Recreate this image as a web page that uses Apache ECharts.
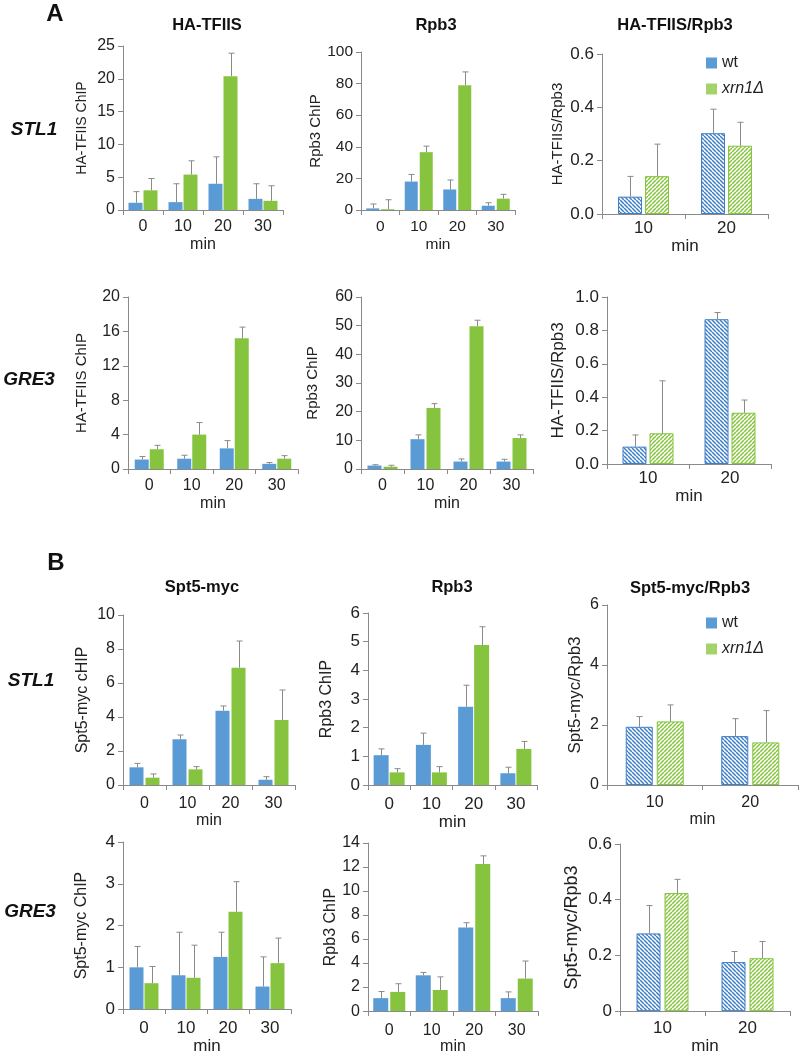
<!DOCTYPE html>
<html>
<head>
<meta charset="utf-8">
<script src="https://cdn.jsdelivr.net/npm/echarts@6/dist/echarts.min.js"></script>
<style>
html, body { margin: 0; padding: 0; background: #fff; }
#main { width: 800px; height: 1056px; }
</style>
</head>
<body>
<div id="main"></div>
<script>
var minAll = ['0', '10', '20', '30'];
var minMid = ['10', '20'];

// A - STL1
var stl1TfiisWt = [1.1, 1.2, 4.0, 1.7];
var stl1TfiisWtErr = [1.7, 2.8, 4.1, 2.3];
var stl1TfiisXrn = [3.0, 5.4, 20.4, 1.4];
var stl1TfiisXrnErr = [1.8, 2.1, 3.5, 2.3];

var stl1RpbWt = [1.0, 18, 13, 2.7];
var stl1RpbWtErr = [2.8, 4.5, 6, 1.9];
var stl1RpbXrn = [0.5, 36.6, 79, 7.2];
var stl1RpbXrnErr = [6, 3.8, 8.4, 2.7];

var stl1RatioWt = [0.065, 0.303];
var stl1RatioWtErr = [0.076, 0.09];
var stl1RatioXrn = [0.142, 0.256];
var stl1RatioXrnErr = [0.12, 0.088];

// A - GRE3
var gre3TfiisWt = [1.1, 1.2, 2.4, 0.6];
var gre3TfiisWtErr = [0.35, 0.4, 0.9, 0.15];
var gre3TfiisXrn = [2.3, 4.0, 15.2, 1.2];
var gre3TfiisXrnErr = [0.45, 1.4, 1.3, 0.35];

var gre3RpbWt = [1.2, 10.4, 2.6, 2.6];
var gre3RpbWtErr = [0.3, 1.5, 0.9, 0.8];
var gre3RpbXrn = [0.8, 21.3, 49.8, 10.8];
var gre3RpbXrnErr = [0.5, 1.5, 2.1, 1.1];

var gre3RatioWt = [0.104, 0.867];
var gre3RatioWtErr = [0.07, 0.04];
var gre3RatioXrn = [0.184, 0.307];
var gre3RatioXrnErr = [0.314, 0.076];

// B - STL1
var stl1SptWt = [1.04, 2.69, 4.37, 0.31];
var stl1SptWtErr = [0.23, 0.25, 0.28, 0.18];
var stl1SptXrn = [0.43, 0.92, 6.9, 3.82];
var stl1SptXrnErr = [0.22, 0.16, 1.57, 1.77];

var stl1Rpb2Wt = [1.04, 1.4, 2.73, 0.41];
var stl1Rpb2WtErr = [0.22, 0.41, 0.75, 0.21];
var stl1Rpb2Xrn = [0.44, 0.44, 4.88, 1.26];
var stl1Rpb2XrnErr = [0.13, 0.2, 0.64, 0.26];

var stl1SptRatioWt = [1.94, 1.63];
var stl1SptRatioWtErr = [0.34, 0.58];
var stl1SptRatioXrn = [2.12, 1.42];
var stl1SptRatioXrnErr = [0.55, 1.06];

// B - GRE3
var gre3SptWt = [1.0, 0.81, 1.25, 0.54];
var gre3SptWtErr = [0.5, 1.03, 0.59, 0.71];
var gre3SptXrn = [0.62, 0.75, 2.33, 1.1];
var gre3SptXrnErr = [0.4, 0.78, 0.72, 0.6];

var gre3Rpb2Wt = [1.08, 2.98, 6.96, 1.08];
var gre3Rpb2WtErr = [0.55, 0.24, 0.4, 0.52];
var gre3Rpb2Xrn = [1.6, 1.76, 12.25, 2.71];
var gre3Rpb2XrnErr = [0.68, 1.09, 0.68, 1.46];

var gre3SptRatioWt = [0.279, 0.176];
var gre3SptRatioWtErr = [0.1, 0.038];
var gre3SptRatioXrn = [0.424, 0.19];
var gre3SptRatioXrnErr = [0.049, 0.06];

var blue = '#5b9bd5';
var green = '#86c440';
var grey = '#8a8a8a';
var font = 'Liberation Sans, Arial, sans-serif';

// panel layout (px), fs = tick label size, nfs = axis name size, lm = x label margin, ng = "min" gap
var panels = [
	{ l: 123, t: 46, w: 160, h: 164, cats: minAll, max: 25, step: 5, name: 'HA-TFIIS ChIP', gap: 34, bw: 14, bg: 1, fs: 16, nfs: 14, lm: 9, ng: 27, d: [stl1TfiisWt, stl1TfiisWtErr, stl1TfiisXrn, stl1TfiisXrnErr] },
	{ l: 361, t: 52, w: 154, h: 158, cats: minAll, max: 100, step: 20, name: 'Rpb3 ChIP', gap: 36.5, bw: 13, bg: 2, fs: 15.5, nfs: 15, lm: 9, ng: 27, d: [stl1RpbWt, stl1RpbWtErr, stl1RpbXrn, stl1RpbXrnErr] },
	{ l: 602, t: 54, w: 166, h: 160, cats: minMid, max: 0.6, step: 0.2, name: 'HA-TFIIS/Rpb3', gap: 36.5, bw: 24, bg: 3, fs: 17, nfs: 15, lm: 6, ng: 23, fix: 1, hatch: true, d: [stl1RatioWt, stl1RatioWtErr, stl1RatioXrn, stl1RatioXrnErr] },
	{ l: 128, t: 297, w: 170, h: 172, cats: minAll, max: 20, step: 4, name: 'HA-TFIIS ChIP', gap: 38.5, bw: 14, bg: 1, fs: 16, nfs: 15, lm: 9, ng: 27, d: [gre3TfiisWt, gre3TfiisWtErr, gre3TfiisXrn, gre3TfiisXrnErr] },
	{ l: 361, t: 297, w: 172, h: 172, cats: minAll, max: 60, step: 10, name: 'Rpb3 ChIP', gap: 40.5, bw: 14, bg: 2, fs: 16, nfs: 15, lm: 9, ng: 27, d: [gre3RpbWt, gre3RpbWtErr, gre3RpbXrn, gre3RpbXrnErr] },
	{ l: 607, t: 297, w: 164, h: 167, cats: minMid, max: 1.0, step: 0.2, name: 'HA-TFIIS/Rpb3', gap: 40.5, bw: 24, bg: 3, fs: 17, nfs: 17, lm: 6, ng: 24, fix: 1, hatch: true, d: [gre3RatioWt, gre3RatioWtErr, gre3RatioXrn, gre3RatioXrnErr] },
	{ l: 123, t: 615, w: 172, h: 170, cats: minAll, max: 10, step: 2, name: 'Spt5-myc cHIP', gap: 32, bw: 14, bg: 2, fs: 16, nfs: 16, lm: 11, ng: 22, d: [stl1SptWt, stl1SptWtErr, stl1SptXrn, stl1SptXrnErr] },
	{ l: 368, t: 613, w: 169, h: 172, cats: minAll, max: 6, step: 1, name: 'Rpb3 ChIP', gap: 33, bw: 15, bg: 1, fs: 17, nfs: 16, lm: 11, ng: 22, d: [stl1Rpb2Wt, stl1Rpb2WtErr, stl1Rpb2Xrn, stl1Rpb2XrnErr] },
	{ l: 607, t: 605, w: 191, h: 180, cats: minMid, max: 6, step: 2, name: 'Spt5-myc/Rpb3', gap: 23.5, bw: 27, bg: 4, fs: 16, nfs: 17, lm: 10, ng: 22, hatch: true, d: [stl1SptRatioWt, stl1SptRatioWtErr, stl1SptRatioXrn, stl1SptRatioXrnErr] },
	{ l: 123, t: 842, w: 168, h: 174, cats: minAll, max: 4, step: 1, name: 'Spt5-myc ChIP', gap: 33, bw: 14, bg: 1, fs: 17, nfs: 16, lm: 11, ng: 24, d: [gre3SptWt, gre3SptWtErr, gre3SptXrn, gre3SptXrnErr] },
	{ l: 368, t: 843, w: 170, h: 173, cats: minAll, max: 14, step: 2, name: 'Rpb3 ChIP', gap: 27, bw: 15, bg: 2, fs: 16, nfs: 16, lm: 11, ng: 24, d: [gre3Rpb2Wt, gre3Rpb2WtErr, gre3Rpb2Xrn, gre3Rpb2XrnErr] },
	{ l: 620, t: 844, w: 170, h: 169, cats: minMid, max: 0.6, step: 0.2, name: 'Spt5-myc/Rpb3', gap: 39, bw: 24, bg: 4, fs: 17, nfs: 18, lm: 9, ng: 24, hatch: true, d: [gre3SptRatioWt, gre3SptRatioWtErr, gre3SptRatioXrn, gre3SptRatioXrnErr] }
];

function hatch(color, dir) {
	var s = 4;
	var c = document.createElement('canvas');
	c.width = s;
	c.height = s;
	var g = c.getContext('2d');
	g.fillStyle = '#fff';
	g.fillRect(0, 0, s, s);
	g.strokeStyle = color;
	g.lineWidth = 1.5;
	g.beginPath();
	for(var k = -1; k <= 1; k++) {
		if(dir > 0) {
			g.moveTo(k * s, 0);
			g.lineTo(k * s + s, s);
		} else {
			g.moveTo(k * s, s);
			g.lineTo(k * s + s, 0);
		}
	}
	g.stroke();
	return c;
}

var blueHatch = hatch('#3f7fc6', 1);
var greenHatch = hatch('#86c440', -1);

function errSeries(i, vals, errs, side, off) {
	var d = [];
	for(var j = 0; j < vals.length; j++) {
		d.push([j, vals[j], errs[j]]);
	}
	return {
		type: 'custom',
		xAxisIndex: i,
		yAxisIndex: i,
		silent: true,
		z: 3,
		data: d,
		encode: { x: 0, y: 1 },
		renderItem: function(params, api) {
			var p0 = api.coord([api.value(0), api.value(1)]);
			var p1 = api.coord([api.value(0), api.value(1) + api.value(2)]);
			var x = Math.round(p0[0] + side * off) + 0.5;
			var st = { stroke: grey, lineWidth: 1 };
			return {
				type: 'group',
				children: [
					{ type: 'line', shape: { x1: x, y1: p0[1], x2: x, y2: p1[1] }, style: st },
					{ type: 'line', shape: { x1: x - 3, y1: p1[1], x2: x + 3, y2: p1[1] }, style: st }
				]
			};
		}
	};
}

var grids = [], xAxes = [], yAxes = [], series = [];

panels.forEach(function(p, i) {
	grids.push({ left: p.l, top: p.t, width: p.w, height: p.h });
	xAxes.push({
		type: 'category',
		gridIndex: i,
		data: p.cats,
		axisLine: { lineStyle: { color: grey } },
		axisTick: { show: true, length: 5, lineStyle: { color: grey } },
		axisLabel: { color: '#222', fontSize: p.fs, fontFamily: font, margin: p.lm },
		name: 'min',
		nameLocation: 'middle',
		nameGap: p.ng,
		nameTextStyle: { color: '#222', fontSize: p.fs, fontFamily: font }
	});
	yAxes.push({
		type: 'value',
		gridIndex: i,
		min: 0,
		max: p.max,
		interval: p.step,
		axisLine: { show: true, lineStyle: { color: grey } },
		axisTick: { show: true, length: 5, lineStyle: { color: grey } },
		splitLine: { show: false },
		axisLabel: {
			color: '#222', fontSize: p.fs, fontFamily: font, margin: 8,
			formatter: function(v) {
				return p.fix ? v.toFixed(p.fix) : String(Math.round(v * 10) / 10);
			}
		},
		name: p.name,
		nameLocation: 'middle',
		nameGap: p.gap,
		nameTextStyle: { color: '#222', fontSize: p.nfs, fontFamily: font }
	});

	var gapPct = (p.bg / p.bw * 100) + '%';
	series.push({
		name: 'wt',
		type: 'bar',
		xAxisIndex: i,
		yAxisIndex: i,
		barWidth: p.bw,
		barGap: gapPct,
		data: p.d[0],
		itemStyle: p.hatch ? { color: { image: blueHatch, repeat: 'repeat' }, borderColor: '#3f7fc6', borderWidth: 1 } : { color: blue }
	});
	series.push({
		name: 'xrn1Δ',
		type: 'bar',
		xAxisIndex: i,
		yAxisIndex: i,
		barWidth: p.bw,
		barGap: gapPct,
		data: p.d[2],
		itemStyle: p.hatch ? { color: { image: greenHatch, repeat: 'repeat' }, borderColor: '#86c440', borderWidth: 1 } : { color: green }
	});
	var off = (p.bw + p.bg) / 2;
	series.push(errSeries(i, p.d[0], p.d[1], -1, off));
	series.push(errSeries(i, p.d[2], p.d[3], 1, off));
});

function legendAt(left, top) {
	return {
		orient: 'vertical',
		left: left,
		top: top,
		padding: 0,
		itemWidth: 11,
		itemHeight: 11,
		itemGap: 10,
		icon: 'rect',
		selectedMode: false,
		data: [
			{ name: 'wt', itemStyle: { color: '#5b9bd5', borderWidth: 0 } },
			{ name: 'xrn1Δ', itemStyle: { color: '#a6d26c', borderWidth: 0 } }
		],
		formatter: function(n) {
			return n == 'wt' ? n : '{i|' + n + '}';
		},
		textStyle: {
			color: '#222', fontSize: 16, fontFamily: font,
			rich: { i: { fontStyle: 'italic', fontSize: 16, fontFamily: font } }
		}
	};
}

function txt(s, x, y, size, italic) {
	return {
		type: 'text',
		x: x,
		y: y,
		silent: true,
		style: {
			text: s,
			font: (italic ? 'italic ' : '') + 'bold ' + size + 'px ' + font,
			fill: '#111',
			textAlign: 'center',
			textVerticalAlign: 'middle'
		}
	};
}

var chart = echarts.init(document.getElementById('main'));

var option = {
	animation: false,
	backgroundColor: '#fff',
	grid: grids,
	xAxis: xAxes,
	yAxis: yAxes,
	legend: [legendAt(706, 55), legendAt(706, 615)],
	graphic: [
		txt('A', 55, 14, 24),
		txt('B', 56, 563, 24),
		txt('STL1', 34, 130, 19, true),
		txt('GRE3', 29, 380, 19, true),
		txt('STL1', 31, 681, 19, true),
		txt('GRE3', 30, 912, 19, true),
		txt('HA-TFIIS', 207, 25, 16.5),
		txt('Rpb3', 436, 25, 16.5),
		txt('HA-TFIIS/Rpb3', 675, 25, 16.5),
		txt('Spt5-myc', 202, 587, 16.5),
		txt('Rpb3', 452, 587, 16.5),
		txt('Spt5-myc/Rpb3', 690, 588, 16.5)
	],
	series: series
};

chart.setOption(option);
</script>
</body>
</html>
